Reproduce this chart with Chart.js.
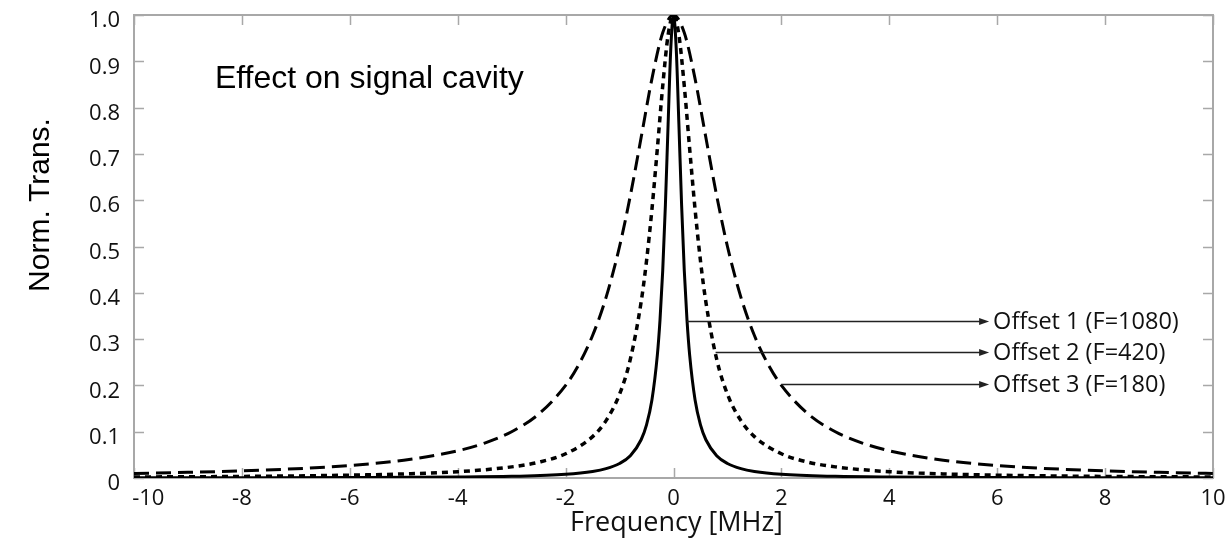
<!DOCTYPE html>
<html><head><meta charset="utf-8">
<script src="https://cdn.jsdelivr.net/npm/chart.js@4/dist/chart.umd.min.js"></script>
<style>html,body{margin:0;padding:0;background:#fff;}#wrap{width:1230px;height:545px;}</style>
</head><body><div id="wrap"><canvas id="c" width="1230" height="545"></canvas></div>
<script>
// Offset 3 (F=180) - dashed, widest
const freqOffset3 = [-10,-9,-8,-7,-6,-5,-4,-3.5,-3,-2.5,-2,-1.75,-1.5,-1.25,-1,-0.8,-0.6,-0.4,-0.2,0,0.2,0.4,0.6,0.8,1,1.25,1.5,1.75,2,2.5,3,3.5,4,5,6,7,8,9,10];
const transOffset3 = [0.0099,0.0122,0.0154,0.0200,0.0270,0.0385,0.0588,0.0755,0.1000,0.1379,0.2000,0.2462,0.3077,0.3902,0.5000,0.6098,0.7353,0.8621,0.9615,1.0000,0.9615,0.8621,0.7353,0.6098,0.5000,0.3902,0.3077,0.2462,0.2000,0.1379,0.1000,0.0755,0.0588,0.0385,0.0270,0.0200,0.0154,0.0122,0.0099];
// Offset 2 (F=420) - dotted
const freqOffset2 = [-10,-8,-6,-5,-4,-3,-2.5,-2,-1.5,-1.25,-1,-0.8,-0.6,-0.5,-0.4,-0.3,-0.2,-0.1,0,0.1,0.2,0.3,0.4,0.5,0.6,0.8,1,1.25,1.5,2,2.5,3,4,5,6,8,10];
const transOffset2 = [0.0022,0.0034,0.0061,0.0088,0.0136,0.0240,0.0341,0.0523,0.0894,0.1239,0.1809,0.2566,0.3802,0.4690,0.5800,0.7105,0.8464,0.9567,1.0000,0.9567,0.8464,0.7105,0.5800,0.4690,0.3802,0.2566,0.1809,0.1239,0.0894,0.0523,0.0341,0.0240,0.0136,0.0088,0.0061,0.0034,0.0022];
// Offset 1 (F=1080) - solid, narrowest
const freqOffset1 = [-10,-8,-6,-4,-3,-2,-1.5,-1.25,-1,-0.8,-0.6,-0.5,-0.4,-0.3,-0.25,-0.2,-0.15,-0.1,-0.05,0,0.05,0.1,0.15,0.2,0.25,0.3,0.4,0.5,0.6,0.8,1,1.25,1.5,2,3,4,6,8,10];
const transOffset1 = [0.0003,0.0005,0.0009,0.0020,0.0036,0.0080,0.0142,0.0203,0.0314,0.0482,0.0826,0.1147,0.1684,0.2647,0.3414,0.4475,0.5902,0.7642,0.9284,1.0000,0.9284,0.7642,0.5902,0.4475,0.3414,0.2647,0.1684,0.1147,0.0826,0.0482,0.0314,0.0203,0.0142,0.0080,0.0036,0.0020,0.0009,0.0005,0.0003];

const xTicks = [-10,-8,-6,-4,-2,0,2,4,6,8,10];
const yTicks = [0,0.1,0.2,0.3,0.4,0.5,0.6,0.7,0.8,0.9,1.0];
const yTickLabels = ['0','0.1','0.2','0.3','0.4','0.5','0.6','0.7','0.8','0.9','1.0'];

const arrowLabels = ['Offset 1 (F=1080)','Offset 2 (F=420)','Offset 3 (F=180)'];
const arrowStartFreq = [0.25, 0.78, 2.0];
const arrowLevel = [0.34, 0.272, 0.203];
const arrowEndFreq = 5.85;
const panelText = 'Effect on signal cavity';
const panelTextFreq = -8.5;
const panelTextLevel = 0.862;
const yTitle = 'Norm. Trans.';
const xTitle = 'Frequency [MHz]';

const AXIS_GRAY = '#a8a8a8';
const TICK_FONT = "'Open Sans', 'DejaVu Sans', sans-serif";
const ARIAL = "'Liberation Sans', Arial, sans-serif";

const boxPlugin = {
  id: 'boxTicks',
  beforeDatasetsDraw(chart) {
    const {ctx, chartArea: a, scales: {x, y}} = chart;
    ctx.save();
    ctx.strokeStyle = AXIS_GRAY;
    ctx.lineWidth = 2;
    ctx.strokeRect(a.left, a.top, a.right - a.left, a.bottom - a.top);
    ctx.lineWidth = 1.5;
    ctx.beginPath();
    const tl = 10;
    xTicks.forEach(v => {
      const px = Math.round(x.getPixelForValue(v)) + 0.5;
      ctx.moveTo(px, a.bottom); ctx.lineTo(px, a.bottom - tl);
      ctx.moveTo(px, a.top); ctx.lineTo(px, a.top + tl);
    });
    yTicks.forEach(v => {
      const py = Math.round(y.getPixelForValue(v)) + 0.5;
      ctx.moveTo(a.left, py); ctx.lineTo(a.left + tl, py);
      ctx.moveTo(a.right, py); ctx.lineTo(a.right - tl, py);
    });
    ctx.stroke();
    ctx.restore();
  },
  afterDatasetsDraw(chart) {
    const {ctx, chartArea: a, scales: {x, y}} = chart;
    ctx.save();
    ctx.strokeStyle = '#222';
    ctx.fillStyle = '#222';
    ctx.lineWidth = 1.5;
    const xe = x.getPixelForValue(arrowEndFreq);
    arrowLabels.forEach((lab, i) => {
      const xs = x.getPixelForValue(arrowStartFreq[i]);
      const py = Math.round(y.getPixelForValue(arrowLevel[i])) + 0.5;
      ctx.beginPath();
      ctx.moveTo(xs, py); ctx.lineTo(xe - 8, py);
      ctx.stroke();
      ctx.beginPath();
      ctx.moveTo(xe, py); ctx.lineTo(xe - 10, py - 3.5); ctx.lineTo(xe - 10, py + 3.5); ctx.closePath();
      ctx.fill();
      ctx.font = "23.5px " + TICK_FONT;
      ctx.textAlign = 'left';
      ctx.textBaseline = 'middle';
      ctx.fillStyle = '#111';
      ctx.fillText(lab, xe + 4, py + 1);
      ctx.fillStyle = '#222';
    });
    ctx.font = "32px " + ARIAL;
    ctx.fillStyle = '#000';
    ctx.textAlign = 'left';
    ctx.textBaseline = 'middle';
    ctx.fillText(panelText, x.getPixelForValue(panelTextFreq), y.getPixelForValue(panelTextLevel));
    // y axis title
    ctx.save();
    ctx.translate(41, 205);
    ctx.rotate(-Math.PI / 2);
    ctx.font = "30px " + ARIAL;
    ctx.textAlign = 'center';
    ctx.textBaseline = 'middle';
    ctx.fillText(yTitle, 0, 0);
    ctx.restore();
    // x axis title
    ctx.font = "27px " + TICK_FONT;
    ctx.fillStyle = '#111';
    ctx.textAlign = 'center';
    ctx.textBaseline = 'middle';
    ctx.fillText(xTitle, (a.left + a.right) / 2 + 3, 523);
    ctx.restore();
  }
};

const mk = (fx, ty) => fx.map((f, i) => ({x: f, y: ty[i]}));

new Chart(document.getElementById('c'), {
  type: 'line',
  data: {
    datasets: [
      {label: 'Offset 3 (F=180)', data: mk(freqOffset3, transOffset3), borderColor: '#000', borderWidth: 3, borderDash: [15, 7], pointRadius: 0, cubicInterpolationMode: 'monotone', fill: false},
      {label: 'Offset 2 (F=420)', data: mk(freqOffset2, transOffset2), borderColor: '#000', borderWidth: 3.5, borderDash: [6, 5], pointRadius: 0, cubicInterpolationMode: 'monotone', fill: false},
      {label: 'Offset 1 (F=1080)', data: mk(freqOffset1, transOffset1), borderColor: '#000', borderWidth: 3, pointRadius: 0, cubicInterpolationMode: 'monotone', fill: false}
    ]
  },
  options: {
    responsive: false,
    animation: false,
    devicePixelRatio: 1,
    layout: {padding: {left: 0, right: 17, top: 15, bottom: 0}},
    plugins: {legend: {display: false}, tooltip: {enabled: false}},
    scales: {
      x: {
        type: 'linear', min: -10, max: 10,
        afterBuildTicks: s => { s.ticks = xTicks.map(v => ({value: v})); },
        afterFit: s => { s.height = 67; s.paddingLeft = 0; s.paddingRight = 0; },
        grid: {display: false, drawTicks: false},
        border: {display: false},
        ticks: {color: '#111', font: {family: TICK_FONT, size: 22}, padding: 8, maxRotation: 0, autoSkip: false,
          callback: v => (v === -10 ? '\u00a0\u00a0\u00a0\u00a0\u00a0-10' : String(v))},
        title: {display: false}
      },
      y: {
        type: 'linear', min: 0, max: 1,
        afterBuildTicks: s => { s.ticks = yTicks.map(v => ({value: v})); },
        afterFit: s => { s.width = 134; s.paddingTop = 0; s.paddingBottom = 0; },
        grid: {display: false, drawTicks: false},
        border: {display: false},
        ticks: {color: '#111', font: {family: TICK_FONT, size: 22}, padding: 14, labelOffset: 6, autoSkip: false,
          callback: (v) => { const k = yTicks.findIndex(t => Math.abs(t - v) < 1e-9); return k >= 0 ? yTickLabels[k] : ''; }},
        title: {display: false}
      }
    }
  },
  plugins: [boxPlugin]
});
</script></body></html>
